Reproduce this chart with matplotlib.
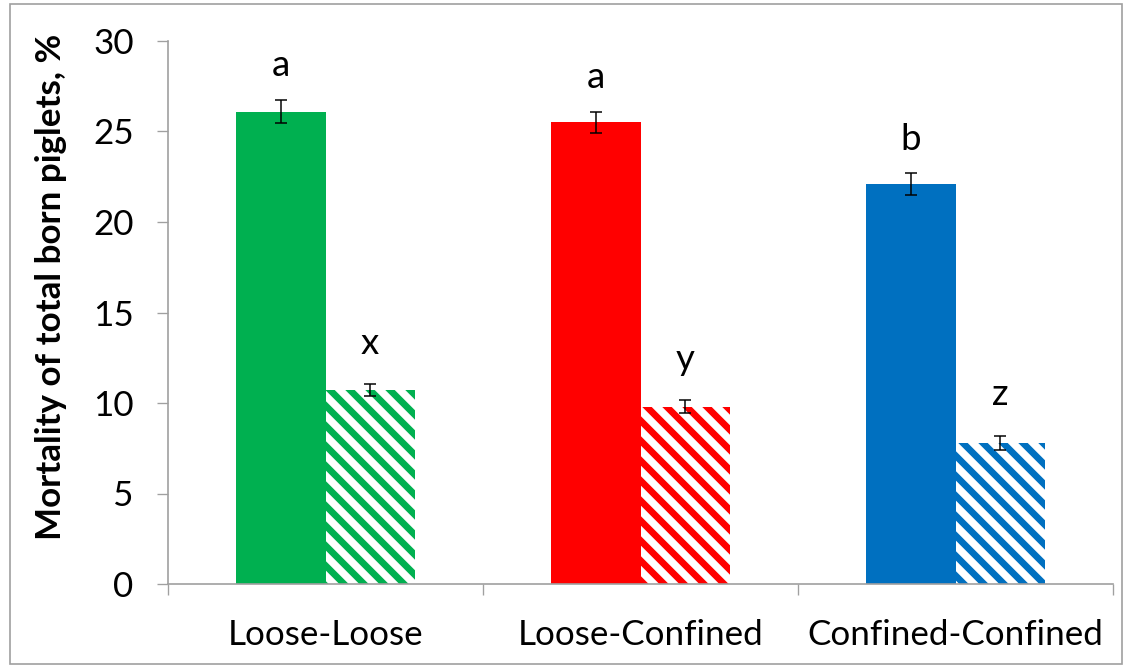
import matplotlib.pyplot as plt
import numpy as np
from matplotlib.patches import Rectangle

groups = ['Loose-Loose', 'Loose-Confined', 'Confined-Confined']
solid = [26.1, 25.5, 22.1]
solid_err = [0.65, 0.6, 0.6]
hatched = [10.7, 9.8, 7.8]
hatched_err = [0.33, 0.35, 0.4]
letters_solid = ['a', 'a', 'b']
letters_hatched = ['x', 'y', 'z']
colors = ['#00B050', '#FF0000', '#0070C0']

plt.rcParams['font.family'] = ['Lato', 'DejaVu Sans']
plt.rcParams['hatch.linewidth'] = 4.0

fig = plt.figure(figsize=(1127/120, 668/120), dpi=120)
ax = fig.add_axes([168/1127, 84/668, 945/1127, 543/668])

x = np.arange(1, len(groups) + 1)
w = 0.283
ekw = dict(ecolor='black', elinewidth=0.9, capsize=3.6, capthick=0.9)

ax.bar(x, solid, width=-w, align='edge', color=colors, yerr=solid_err, error_kw=ekw)
ax.bar(x, hatched, width=w, align='edge', color='white', edgecolor=colors,
       linewidth=0, hatch='\\\\', yerr=hatched_err, error_kw=ekw)

for i in range(len(groups)):
    ax.text(x[i] - w/2, solid[i] + solid_err[i] + 1.3, letters_solid[i],
            ha='center', va='baseline', fontsize=22)
    ax.text(x[i] + w/2, hatched[i] + hatched_err[i] + 1.7, letters_hatched[i],
            ha='center', va='baseline', fontsize=22)

ax.set_xlim(0.5, 3.5)
ax.set_ylim(0, 30)
ax.set_yticks(range(0, 31, 5))
ax.set_xticks([0.5, 1.5, 2.5, 3.5])
ax.set_xticklabels([])
ax.set_xticks(x, minor=True)
ax.set_xticklabels(groups, minor=True)

gray = '#a0a0a0'
for s in ['top', 'right']:
    ax.spines[s].set_visible(False)
for s in ['left', 'bottom']:
    ax.spines[s].set_color(gray)
    ax.spines[s].set_linewidth(1)

ax.tick_params(axis='x', which='major', length=6.6, color=gray)
ax.tick_params(axis='x', which='minor', length=0, pad=21, labelsize=21)
ax.tick_params(axis='y', length=6.6, color=gray, pad=14, labelsize=21)

fig.text(51/1127, 1 - 287/668, 'Mortality of total born piglets, %', rotation=90,
         ha='center', va='center', fontsize=21, fontweight='bold')

fig.patches.append(Rectangle((10/1127, 4/668), 1112/1127, 660/668,
                             transform=fig.transFigure, fill=False,
                             edgecolor=gray, linewidth=1))

fig.savefig('out.png', dpi=120)
